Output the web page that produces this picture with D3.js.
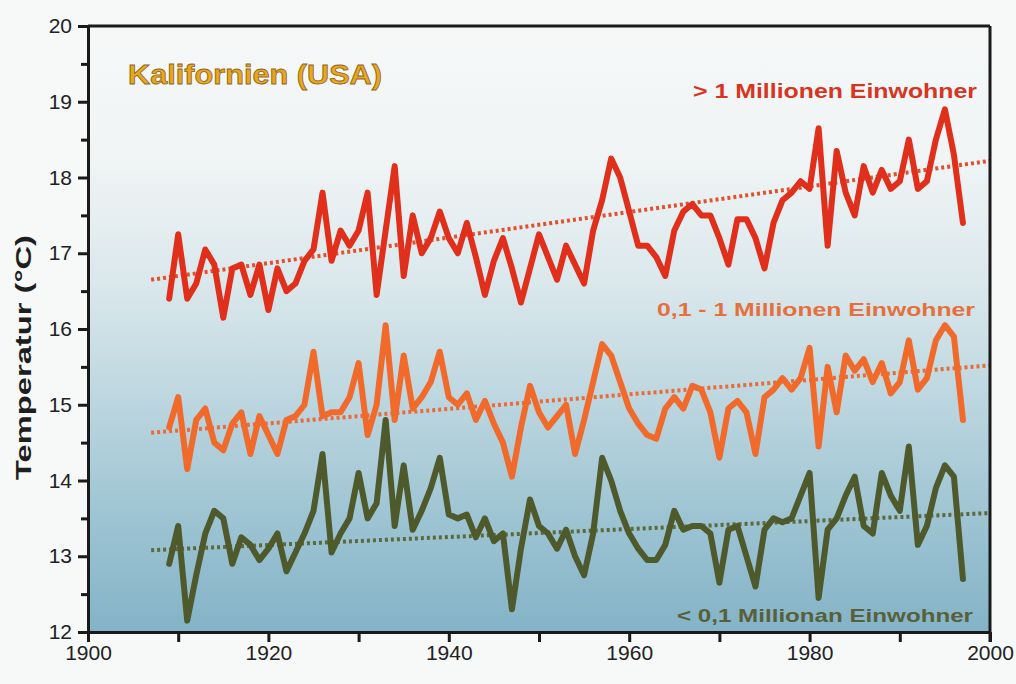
<!DOCTYPE html>
<html><head><meta charset="utf-8">
<script src="https://cdn.jsdelivr.net/npm/d3@7/dist/d3.min.js"></script>
<style>
body{margin:0;background:#f7f8f8;}
svg{display:block;font-family:"Liberation Sans",Arial,sans-serif;}
</style>
</head><body>
<svg id="chart" width="1016" height="684"></svg>
<script>
// ---------- data ----------
const years = [
  1909,
  1910,1911,1912,1913,1914,1915,1916,1917,1918,1919,
  1920,1921,1922,1923,1924,1925,1926,1927,1928,1929,
  1930,1931,1932,1933,1934,1935,1936,1937,1938,1939,
  1940,1941,1942,1943,1944,1945,1946,1947,1948,1949,
  1950,1951,1952,1953,1954,1955,1956,1957,1958,1959,
  1960,1961,1962,1963,1964,1965,1966,1967,1968,1969,
  1970,1971,1972,1973,1974,1975,1976,1977,1978,1979,
  1980,1981,1982,1983,1984,1985,1986,1987,1988,1989,
  1990,1991,1992,1993,1994,1995,1996,1997
];
// > 1 Millionen Einwohner
const bigCities = [
  16.4,
  17.25,16.4,16.6,17.05,16.85,16.15,16.8,16.85,16.45,16.85,
  16.25,16.8,16.5,16.6,16.9,17.05,17.8,16.9,17.3,17.1,
  17.3,17.8,16.45,17.3,18.15,16.7,17.5,17.0,17.2,17.55,
  17.2,17.0,17.4,16.95,16.45,16.9,17.2,16.8,16.35,16.8,
  17.25,16.95,16.65,17.1,16.85,16.6,17.3,17.7,18.25,18.0,
  17.55,17.1,17.1,16.95,16.7,17.3,17.55,17.65,17.5,17.5,
  17.2,16.85,17.45,17.45,17.2,16.8,17.4,17.7,17.8,17.95,
  17.85,18.65,17.1,18.35,17.8,17.5,18.15,17.8,18.1,17.85,
  17.95,18.5,17.85,17.95,18.5,18.9,18.3,17.4
];
// 0,1 - 1 Millionen Einwohner
const midCities = [
  14.7,
  15.1,14.15,14.8,14.95,14.5,14.4,14.75,14.9,14.35,14.85,
  14.6,14.35,14.8,14.85,15.0,15.7,14.85,14.9,14.9,15.1,
  15.55,14.6,15.0,16.05,14.8,15.65,14.95,15.1,15.3,15.7,
  15.1,15.0,15.15,14.8,15.05,14.75,14.5,14.05,14.7,15.25,
  14.9,14.7,14.85,15.0,14.35,14.8,15.3,15.8,15.65,15.3,
  14.95,14.75,14.6,14.55,14.95,15.1,14.95,15.25,15.2,14.9,
  14.3,14.95,15.05,14.9,14.35,15.1,15.2,15.35,15.2,15.35,
  15.75,14.45,15.5,14.9,15.65,15.45,15.6,15.3,15.55,15.15,
  15.3,15.85,15.2,15.35,15.85,16.05,15.9,14.8
];
// < 0,1 Millionen Einwohner
const smallTowns = [
  12.9,
  13.4,12.15,12.75,13.3,13.6,13.5,12.9,13.25,13.15,12.95,
  13.1,13.3,12.8,13.05,13.3,13.6,14.35,13.05,13.3,13.5,
  14.1,13.5,13.7,14.8,13.4,14.2,13.35,13.6,13.9,14.3,
  13.55,13.5,13.55,13.25,13.5,13.2,13.3,12.3,13.1,13.75,
  13.4,13.3,13.1,13.35,13.0,12.75,13.3,14.3,14.0,13.6,
  13.3,13.1,12.95,12.95,13.15,13.6,13.35,13.4,13.4,13.3,
  12.65,13.35,13.4,13.0,12.6,13.35,13.5,13.45,13.5,13.8,
  14.1,12.45,13.35,13.5,13.8,14.05,13.4,13.3,14.1,13.8,
  13.6,14.45,13.15,13.4,13.9,14.2,14.05,12.7
];
// linear trends (start / end)
const trendYears = [1907, 2000];
const bigTrend   = [16.65, 18.22];
const midTrend   = [14.63, 15.52];
const smallTrend = [13.08, 13.57];

const xTicks = [1900,1910,1920,1930,1940,1950,1960,1970,1980,1990,2000];
const xLabels = [1900,1920,1940,1960,1980,2000];
const yTicks = [12,13,14,15,16,17,18,19,20];
const yMinorTicks = [12.5,13.5,14.5,15.5,16.5,17.5,18.5,19.5];

const titleText = "Kalifornien (USA)";
const yTitle = "Temperatur (°C)";
const seriesLabels = ["> 1 Millionen Einwohner", "0,1 - 1 Millionen Einwohner", "< 0,1 Millionan Einwohner"];

// ---------- drawing ----------
const svg = d3.select("#chart");
const L = 88, R = 990, T = 26, B = 632;
const x = d3.scaleLinear().domain([1900, 2000]).range([L, R]);
const y = d3.scaleLinear().domain([12, 20]).range([B, T]);

const defs = svg.append("defs");
const grad = defs.append("linearGradient").attr("id","bg").attr("x1",0).attr("y1",0).attr("x2",0).attr("y2",1);
[[0,"#f6f8f8"],[0.22,"#f0f4f5"],[0.42,"#dbe8ec"],[0.62,"#bcd6df"],[0.82,"#9cc3d2"],[1,"#84b3c7"]]
  .forEach(([o,c]) => grad.append("stop").attr("offset",o).attr("stop-color",c));

svg.append("rect").attr("x",L).attr("y",T).attr("width",R-L).attr("height",B-T).attr("fill","url(#bg)");

const line = d3.line().x(d => x(d[0])).y(d => y(d[1]));

const series = [
  {vals: bigCities,  trend: bigTrend,   color:"#e0301c", tcolor:"#e4502e", lcolor:"#d9341f", label: seriesLabels[0], lx: 977, ly: 98,  fs: 21, tl: 284},
  {vals: midCities,  trend: midTrend,   color:"#f06a2c", tcolor:"#ea6a38", lcolor:"#e4703c", label: seriesLabels[1], lx: 975, ly: 316, fs: 19, tl: 318},
  {vals: smallTowns, trend: smallTrend, color:"#4f5a2c", tcolor:"#5c6a3a", lcolor:"#57603a", label: seriesLabels[2], lx: 973, ly: 622, fs: 19, tl: 296}
];

series.forEach(s => {
  svg.append("path")
    .datum(trendYears.map((yr,i) => [yr, s.trend[i]]))
    .attr("d", line)
    .attr("fill","none").attr("stroke", s.tcolor)
    .attr("stroke-width", 4).attr("stroke-dasharray","3,3");
  svg.append("path")
    .datum(years.map((yr,i) => [yr, s.vals[i]]))
    .attr("d", line)
    .attr("fill","none").attr("stroke", s.color)
    .attr("stroke-width", 6).attr("stroke-linejoin","round").attr("stroke-linecap","round");
  svg.append("text")
    .attr("x", s.lx).attr("y", s.ly).attr("text-anchor","end")
    .attr("font-size", s.fs).attr("font-weight","bold").attr("fill", s.lcolor)
    .attr("textLength", s.tl).attr("lengthAdjust","spacingAndGlyphs")
    .text(s.label);
});

// title
svg.append("text").attr("x",128).attr("y",84)
  .attr("font-size",28).attr("font-weight","bold")
  .attr("fill","#e6a820").attr("stroke","#94641a").attr("stroke-width",0.8)
  .attr("textLength",254).attr("lengthAdjust","spacingAndGlyphs")
  .text(titleText);

// axes
const axisColor = "#1a1a1a";
const gx = svg.append("g").attr("transform",`translate(0,${B})`)
  .call(d3.axisBottom(x).tickValues(xTicks).tickSize(10).tickSizeOuter(0).tickPadding(3)
    .tickFormat(d => xLabels.includes(d) ? String(d) : ""));
const gy = svg.append("g").attr("transform",`translate(${L},0)`)
  .call(d3.axisLeft(y).tickValues(yTicks).tickSize(10).tickSizeOuter(0).tickPadding(6).tickFormat(d3.format("d")));
const gym = svg.append("g").attr("transform",`translate(${L},0)`)
  .call(d3.axisLeft(y).tickValues(yMinorTicks).tickSize(7).tickFormat(""));
gym.select(".domain").remove();
[gx, gy, gym].forEach(g => {
  g.selectAll(".domain").attr("stroke",axisColor).attr("stroke-width",3);
  g.selectAll(".tick line").attr("stroke",axisColor).attr("stroke-width",3);
  g.selectAll(".tick text").attr("fill","#222").attr("font-size",21)
    .attr("font-family",'"Liberation Sans",Arial,sans-serif');
});
// frame top & right
svg.append("line").attr("x1",L).attr("x2",R).attr("y1",T).attr("y2",T).attr("stroke",axisColor).attr("stroke-width",3);
svg.append("line").attr("x1",R).attr("x2",R).attr("y1",T).attr("y2",B+10).attr("stroke",axisColor).attr("stroke-width",3);

// y title
svg.append("text")
  .attr("transform",`translate(31,${(235+480)/2}) rotate(-90)`)
  .attr("text-anchor","middle").attr("font-size",22).attr("font-weight","bold").attr("fill","#1e1e1e")
  .attr("textLength",245).attr("lengthAdjust","spacingAndGlyphs")
  .text(yTitle);
</script>
</body></html>
